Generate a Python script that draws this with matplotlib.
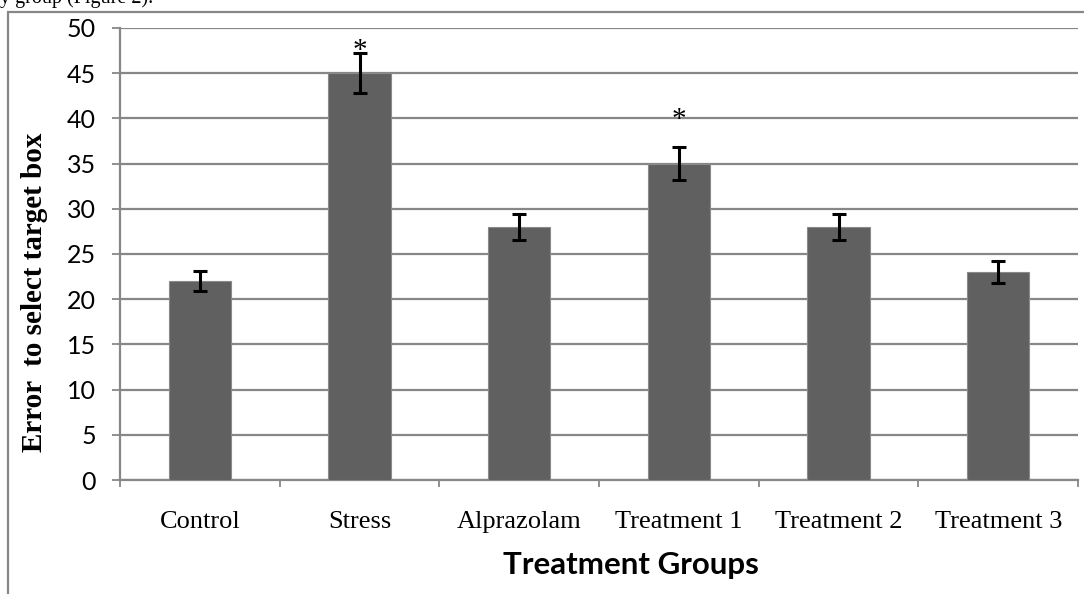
import numpy as np
import matplotlib.pyplot as plt
from matplotlib.patches import Rectangle

# values
groups = ["Control", "Stress", "Alprazolam", "Treatment 1", "Treatment 2", "Treatment 3"]
errors_mean = [22, 45, 28, 35, 28, 23]
errors_sem = [1.1, 2.2, 1.4, 1.8, 1.4, 1.2]
significant = [False, True, False, True, False, False]
star_level = [None, 46.7, None, 39.0, None, None]

fig = plt.figure(figsize=(10.84, 5.94), dpi=100)
ax = fig.add_axes([0.1107, 0.1919, 0.8838, 0.7610])

x = np.arange(len(groups))
ax.bar(x, errors_mean, width=0.39, color="#606060", edgecolor="#8a8a8a",
       linewidth=0.8, zorder=3)
ax.errorbar(x, errors_mean, yerr=errors_sem, fmt="none", ecolor="black",
            elinewidth=2.2, capsize=5, capthick=2.2, zorder=4)
for i in range(len(groups)):
    if significant[i]:
        ax.text(x[i], star_level[i], "*", ha="center", va="baseline",
                fontsize=21, family="Liberation Serif", zorder=5)

ax.set_xlim(-0.5, len(groups) - 0.5)
ax.set_ylim(0, 50)
ax.set_yticks(np.arange(0, 51, 5))
ax.yaxis.grid(True, color="#878787", linewidth=1.6, zorder=0)
ax.set_axisbelow(True)

ax.set_xticks(x)
ax.set_xticklabels(groups, family="Liberation Serif", fontsize=19)
ax.set_xticks(np.arange(-0.5, len(groups)), minor=True)
ax.tick_params(axis="x", which="major", length=0, pad=22)
ax.tick_params(axis="x", which="minor", length=5, width=1.3, color="#878787")
ax.tick_params(axis="y", length=5.5, width=1.3, color="#878787", pad=12)
for lab in ax.get_yticklabels():
    lab.set_family("Lato")
    lab.set_fontsize(18)

for s in ["top", "right"]:
    ax.spines[s].set_visible(False)
for s in ["left", "bottom"]:
    ax.spines[s].set_color("#878787")
    ax.spines[s].set_linewidth(1.6)

fig.text(35 / 1084, 1 - 292 / 594, "Error  to select target box",
         family="Liberation Serif", fontweight="bold", fontsize=21,
         rotation=90, ha="center", va="center")
fig.text(631 / 1084, 1 - 574 / 594, "Treatment Groups", family="Lato",
         fontweight="bold", fontsize=22.5, ha="center", va="baseline")

# outer chart frame (only left and top visible in the crop)
fig.patches.append(Rectangle((8 / 1084, -0.1), 1.2, 1.1 - 12 / 594,
                             transform=fig.transFigure, fill=False,
                             edgecolor="#878787", linewidth=1.6))
# cut-off text of the page above the chart
fig.text(0.0, 1.0 - 3 / 594, "y group (Figure 2).", family="Liberation Serif",
         fontsize=14.5, va="baseline", ha="left")

fig.savefig("out.png", dpi=100)
